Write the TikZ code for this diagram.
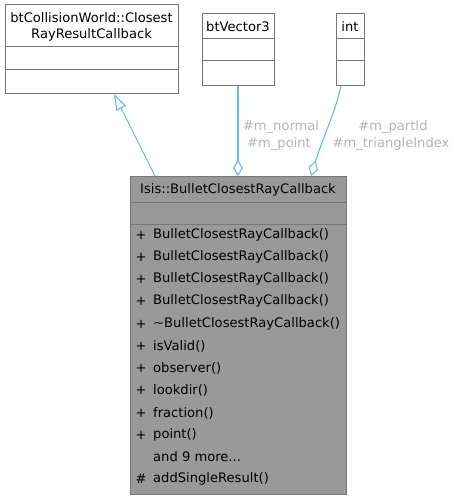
\documentclass[tikz,border=0pt]{standalone}
\usepackage{fontspec}
\setmainfont{DejaVu Sans}
\usetikzlibrary{arrows.meta}
\definecolor{edgeblue}{HTML}{63B8FF}
\definecolor{boxline}{HTML}{777777}
\definecolor{mainfill}{HTML}{999999}
\definecolor{lbl}{HTML}{B4B4B4}
\tikzset{
  box/.style={draw=boxline, line width=1pt, fill=white, inner sep=0, outer sep=0},
  mainbox/.style={box, fill=mainfill},
  txt/.style={inner sep=0, font=\fontsize{13.1}{15}\selectfont, text=black},
  lab/.style={inner sep=0, font=\fontsize{13.1}{15}\selectfont, text=lbl},
  edge/.style={draw=edgeblue, line width=1.1pt},
}
\begin{document}
\begin{tikzpicture}[x=1pt,y=-1pt]
\useasboundingbox (0,0) rectangle (454,500);
% base class
\node[box, minimum width=173pt, minimum height=89pt] (base) at (91.5,49.5) {};
\draw[boxline, line width=1pt] (5,47) -- (178,47) (5,70) -- (178,70);
\node[txt] (baset1) at (91.5,18) {btCollisionWorld::Closest};
\node[txt] (baset2) at (91.5,35) {RayResultCallback};
% btVector3
\node[box, minimum width=72pt, minimum height=72pt] (vec) at (238,50) {};
\draw[boxline, line width=1pt] (202,39) -- (274,39) (202,61) -- (274,61);
\node[txt] (vect) at (238,27) {btVector3};
% int
\node[box, minimum width=28pt, minimum height=72pt] (int) at (350,50) {};
\draw[boxline, line width=1pt] (336,39) -- (364,39) (336,61) -- (364,61);
\node[txt] (intt) at (350,27) {int};
% main class
\node[mainbox, minimum width=216pt, minimum height=318pt] (main) at (238,335) {};
\draw[boxline, line width=1pt] (130,202) -- (346,202) (130,224) -- (346,224);
\node[txt] (maint) at (238,190) {Isis::BulletClosestRayCallback};
\foreach \t/\y/\s [count=\i] in {
  {BulletClosestRayCallback()}/235/+,
  {BulletClosestRayCallback()}/257/+,
  {BulletClosestRayCallback()}/279/+,
  {BulletClosestRayCallback()}/301/+,
  {\char"007E BulletClosestRayCallback()}/324/+,
  {isValid()}/346/+,
  {observer()}/368/+,
  {lookdir()}/390/+,
  {fraction()}/413/+,
  {point()}/435/+,
  {and 9 more...}/457/{},
  {addSingleResult()}/479/\#}{
  \node[txt, anchor=west] (m\i) at (153,\y) {\t};
  \node[txt] (s\i) at (141,\y) {\s};
}
% connectors
\coordinate (inhS) at (155,176);
\coordinate (inhE) at (114,94);
\draw[edge, -{Triangle[open, length=16pt, width=11pt, fill=white]}] (inhS) -- (inhE);
\coordinate (vecS) at (238,86);
\coordinate (vecE) at (238,176);
\draw[edge, -{Diamond[open, length=16pt, width=10pt, fill=white]}] (vecS) -- (vecE);
\coordinate (intS) at (341,86);
\coordinate (intE) at (311,176);
\draw[edge, -{Diamond[open, length=16pt, width=10pt, fill=white]}] (intS) .. controls (336,110) and (322,140) .. (intE);
% labels
\node[lab] (l1) at (281,127) {\#m\_normal};
\node[lab] (l2) at (279,144) {\#m\_point};
\node[lab] (l3) at (393,127) {\#m\_partId};
\node[lab] (l4) at (391,144) {\#m\_triangleIndex};
\end{tikzpicture}
\end{document}
